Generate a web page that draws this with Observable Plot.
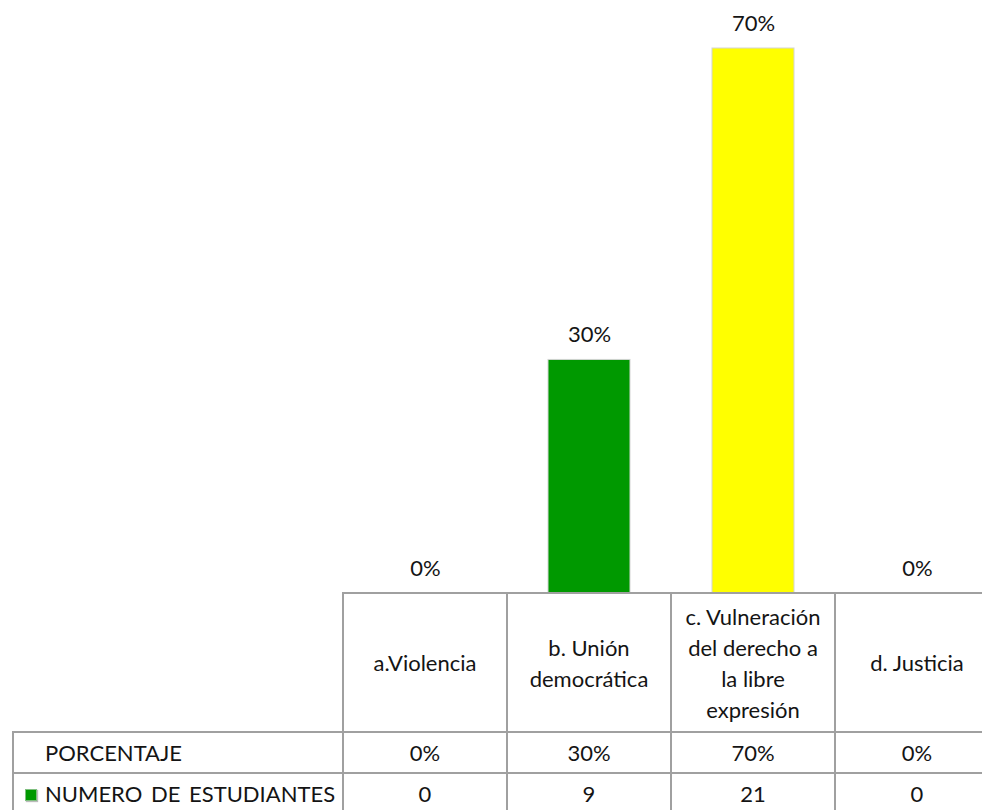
<!DOCTYPE html>
<html>
<head>
<meta charset="utf-8">
<script src="https://cdn.jsdelivr.net/npm/d3@7"></script>
<script src="https://cdn.jsdelivr.net/npm/@observablehq/plot@0.6"></script>
<style>
  html, body { margin: 0; padding: 0; background: #fff; overflow: hidden; width: 982px; height: 810px; }
  #chart { position: relative; width: 982px; height: 810px; overflow: hidden; font-family: Lato, "Open Sans", sans-serif; color: #141414; }
  #chart svg { display: block; overflow: visible; }
  table.dt { position: absolute; left: 12px; top: 592px; width: 986px; border-collapse: collapse; table-layout: fixed; font-size: 22px; color: #141414; }
  table.dt td { border: 2px solid #a0a0a0; padding: 0; text-align: center; vertical-align: middle; }
  table.dt tr.hdr td { height: 137px; line-height: 31px; white-space: pre-line; }
  table.dt tr.hdr td.blank { border-top: none; border-left: none; }
  table.dt tr.r1 td { height: 39px; }
  table.dt tr.r2 td { height: 39px; }
  table.dt td.lab { text-align: left; padding-left: 31px; white-space: nowrap; }
  table.dt tr.r2 td.lab { padding-left: 11px; word-spacing: 3px; }
  .key { display: inline-block; width: 10px; height: 10px; background: #009900; border: 1px solid #7fbf7f; box-shadow: 1px 1px 1px #bbb; margin-right: 8px; vertical-align: 1px; }
</style>
</head>
<body>
<div id="chart"></div>
<script>
const categories = ["a.Violencia", "b. Unión\ndemocrática", "c. Vulneración\ndel derecho a\nla libre\nexpresión", "d. Justicia"];
const porcentaje = [0, 0.30, 0.70, 0];
const porcentajeLabels = ["0%", "30%", "70%", "0%"];
const estudiantes = [0, 9, 21, 0];
const barColors = ["#009900", "#009900", "#ffff00", "#ffff00"];
const rowNames = ["PORCENTAJE", "NUMERO DE ESTUDIANTES"];

const data = categories.map((c, i) => ({cat: c, value: porcentaje[i], label: porcentajeLabels[i], color: barColors[i], n: estudiantes[i]}));

const plot = Plot.plot({
  width: 982,
  height: 593,
  marginTop: 48,
  marginBottom: 0,
  marginLeft: 0,
  marginRight: 0,
  style: {fontFamily: "Lato, 'Open Sans', sans-serif", background: "#fff"},
  x: {domain: categories, range: [343, 999], paddingInner: 0.5, paddingOuter: 0.25, axis: null},
  y: {domain: [0, 0.7], axis: null},
  marks: [
    Plot.barY(data.filter(d => d.value > 0), {x: "cat", y: "value", fill: "color", stroke: "#d4d4d4", strokeWidth: 1}),
    Plot.text(data, {x: "cat", y: "value", text: "label", dy: -25, fontSize: 22, fill: "#141414", lineAnchor: "middle"})
  ]
});

const root = document.getElementById("chart");
root.appendChild(plot);

// data table below the plot
const table = document.createElement("table");
table.className = "dt";
const colgroup = document.createElement("colgroup");
[330, 164, 164, 164, 164].forEach(w => { const col = document.createElement("col"); col.style.width = w + "px"; colgroup.appendChild(col); });
table.appendChild(colgroup);

const hdr = document.createElement("tr"); hdr.className = "hdr";
const blank = document.createElement("td"); blank.className = "blank"; hdr.appendChild(blank);
categories.forEach(c => { const td = document.createElement("td"); td.textContent = c; hdr.appendChild(td); });
table.appendChild(hdr);

const r1 = document.createElement("tr"); r1.className = "r1";
const l1 = document.createElement("td"); l1.className = "lab"; l1.textContent = rowNames[0]; r1.appendChild(l1);
porcentajeLabels.forEach(v => { const td = document.createElement("td"); td.textContent = v; r1.appendChild(td); });
table.appendChild(r1);

const r2 = document.createElement("tr"); r2.className = "r2";
const l2 = document.createElement("td"); l2.className = "lab";
const key = document.createElement("span"); key.className = "key"; l2.appendChild(key);
l2.appendChild(document.createTextNode(rowNames[1])); r2.appendChild(l2);
estudiantes.forEach(v => { const td = document.createElement("td"); td.textContent = String(v); r2.appendChild(td); });
table.appendChild(r2);

root.appendChild(table);
</script>
</body>
</html>
